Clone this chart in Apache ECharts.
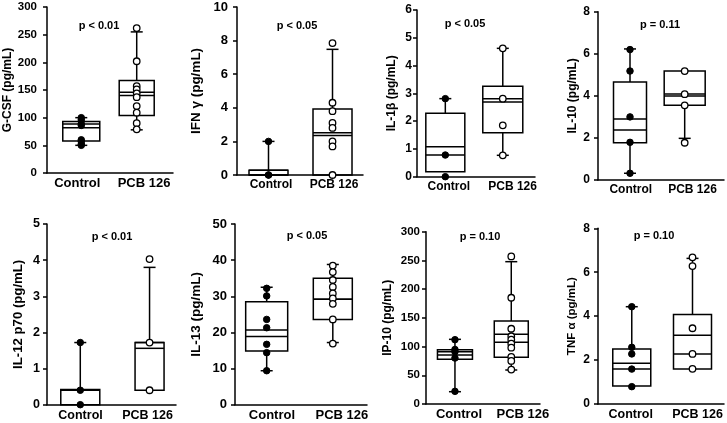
<!DOCTYPE html>
<html><head><meta charset="utf-8">
<script src="https://cdn.jsdelivr.net/npm/echarts@6/dist/echarts.min.js"></script>
<style>html,body{margin:0;padding:0;background:#fff}#c{width:727px;height:423px}</style>
</head><body><div id="c"></div>
<script>
// ---------- DATA ----------
const categories = ['Control', 'PCB 126'];
const yTitles = ['G-CSF (pg/mL)', 'IFN γ (pg/mL)', 'IL-1β (pg/mL)', 'IL-10 (pg/mL)',
                 'IL-12 p70 (pg/mL)', 'IL-13 (pg/mL)', 'IP-10 (pg/mL)', 'TNF α (pg/mL)'];
const pValues = ['p < 0.01', 'p < 0.05', 'p < 0.05', 'p = 0.11', 'p < 0.01', 'p < 0.05', 'p = 0.10', 'p = 0.10'];
const yMax = [300, 10, 6, 8, 5, 50, 300, 8];
const yStep = [50, 2, 1, 2, 1, 10, 50, 2];
// [whisker low, Q1, median, Q3, whisker high, mean]
const controlBoxes = [
  [50, 58, 82, 93, 100, 88.5],
  [0, 0, 0, 0.28, 2, 0.28],
  [0.18, 0.18, 0.78, 2.28, 2.81, 1.08],
  [0.32, 1.77, 2.38, 4.66, 6.23, 2.9],
  [0, 0, 0.4, 0.42, 1.72, 0.4],
  [9.4, 14.86, 18.9, 28.5, 32.5, 20.67],
  [21.4, 77.8, 85.3, 94.5, 112.6, 91],
  [0.82, 0.82, 1.59, 2.5, 4.43, 1.85]
];
const pcbBoxes = [
  [78, 104, 140, 167, 255, 146],
  [0, 0, 2.35, 3.93, 7.48, 2.52],
  [0.77, 1.58, 2.69, 3.26, 4.62, 2.81],
  [1.98, 3.55, 4.09, 5.18, 5.18, 3.99],
  [0.4, 0.4, 1.56, 1.72, 3.8, 1.72],
  [17.2, 23.6, 29.2, 35.0, 38.8, 29.2],
  [59.2, 81.3, 107.4, 144.5, 247.8, 121.3],
  [1.59, 1.59, 2.28, 4.08, 6.63, 3.13]
];
const controlPoints = [
  [100, 96, 89, 86, 60, 57, 52, 50],
  [2, 0, 0],
  [2.81, 0.78, 0],
  [6.2, 5.18, 3.0, 1.79, 0.32],
  [1.72, 0.4, 0],
  [32.2, 30.1, 23.6, 21.3, 16.7, 14.4, 9.4],
  [112, 95, 91, 80, 22],
  [4.43, 2.58, 2.28, 1.59, 0.79]
];
const pcbPoints = [
  [262, 202, 157, 151, 144, 137, 121, 109, 90, 79],
  [7.85, 4.3, 3.8, 3.1, 2.8, 2.0, 1.7, 0],
  [4.62, 2.81, 1.85, 0.77],
  [5.18, 4.08, 3.55, 1.77],
  [4.03, 1.72, 0.4],
  [38.5, 36.7, 34.5, 32.6, 30.8, 29.4, 27.9, 23.6, 16.9],
  [257, 185, 131, 118, 112, 105, 98, 82, 75, 60],
  [6.68, 6.28, 3.45, 2.28, 1.6]
];

// ---------- LAYOUT ----------
const grids = [
  [47, 7, 126, 166], [237, 7, 126, 168], [417, 10, 118, 166.7], [598, 11.7, 126, 168.3],
  [47, 224, 129, 180.7], [235, 224, 132, 180.7], [426, 231.7, 114, 172.3], [598, 228.3, 126, 175.7]
];
const boxX = [[27.2, 71.2], [25, 75.8], [24, 72.7], [25.4, 68.8], [25.8, 79.5], [24, 74.1], [25.4, 74.8], [26.8, 75]];
const labelX = [[24, 77], [27, 77], [27, 81], [26, 75], [26, 78], [28, 81], [29, 85], [26, 79]];
const boxW = [[37, 35], [39, 39], [39, 40], [33, 41], [39, 29], [42, 39], [35, 34], [38, 38]];
const nameGap = [31, 34, 19, 19, 22, 32, 32, 20];
const titleSize = [12, 13.5, 12, 12, 13.2, 13.5, 12, 11.5];
const tickSize = [11.5, 13, 12, 12, 12.5, 13, 11.5, 12];
const tickMargin = [10, 9, 5, 8, 7, 8, 6, 8];
const catSize = [13, 12, 12, 12, 12.5, 13, 13, 12.5];
const pPos = [[99, 26], [297, 26], [465, 24], [660, 25], [112, 237], [307, 236], [480, 237], [654, 236]];
const FONT = '"Liberation Sans", Arial, sans-serif';
const LW = 1.5, CAP = 12;

function boxRenderer(w) {
  return function (params, api) {
    const x = api.value(0);
    const lo = api.value(1), q1 = api.value(2), med = api.value(3), q3 = api.value(4), hi = api.value(5), mean = api.value(6);
    const cx = api.coord([x, q1])[0];
    const y = v => api.coord([x, v])[1];
    const ls = { stroke: '#000', lineWidth: LW };
    const ch = [];
    const hl = (yy, half) => ({ type: 'line', shape: { x1: cx - half, y1: yy, x2: cx + half, y2: yy }, style: ls });
    if (hi > q3) {
      ch.push({ type: 'line', shape: { x1: cx, y1: y(q3), x2: cx, y2: y(hi) }, style: ls });
      ch.push(hl(y(hi), CAP / 2));
    }
    if (lo < q1) {
      ch.push({ type: 'line', shape: { x1: cx, y1: y(q1), x2: cx, y2: y(lo) }, style: ls });
      ch.push(hl(y(lo), CAP / 2));
    }
    ch.push({ type: 'rect', shape: { x: cx - w / 2, y: y(q3), width: w, height: y(q1) - y(q3) },
              style: { stroke: '#000', fill: 'none', lineWidth: LW } });
    ch.push(hl(y(med), w / 2));
    ch.push(hl(y(mean), w / 2));
    return { type: 'group', children: ch };
  };
}

const option = { backgroundColor: '#fff', animation: false, grid: [], xAxis: [], yAxis: [], series: [], graphic: [] };

for (let i = 0; i < 8; i++) {
  const g = grids[i];
  option.grid.push({ left: g[0], top: g[1], width: g[2], height: g[3], containLabel: false });
  option.xAxis.push({
    type: 'value', gridIndex: i, min: 0, max: 100, interval: 1,
    axisLine: { show: true, onZero: false, lineStyle: { color: '#000', width: LW } },
    axisTick: { show: false }, splitLine: { show: false },
    axisLabel: {
      show: true, margin: 4, color: '#000', fontFamily: FONT, fontWeight: 'bold', fontSize: catSize[i],
      hideOverlap: false, showMinLabel: true, showMaxLabel: true,
      formatter: (v) => {
        const r = Math.round(v);
        if (r === labelX[i][0]) return categories[0];
        if (r === labelX[i][1]) return categories[1];
        return '';
      }
    }
  });
  option.yAxis.push({
    type: 'value', gridIndex: i, min: 0, max: yMax[i], interval: yStep[i],
    name: yTitles[i], nameLocation: 'middle', nameRotate: 90, nameGap: nameGap[i],
    nameTextStyle: { color: '#000', fontFamily: FONT, fontWeight: 'bold', fontSize: titleSize[i] },
    axisLine: { show: true, lineStyle: { color: '#000', width: LW } },
    axisTick: { show: true, length: 4, lineStyle: { color: '#000', width: LW } },
    splitLine: { show: false },
    axisLabel: { color: '#000', fontFamily: FONT, fontWeight: 'bold', fontSize: tickSize[i], margin: tickMargin[i] }
  });
  const boxes = [controlBoxes[i], pcbBoxes[i]];
  for (let k = 0; k < 2; k++) {
    option.series.push({
      type: 'custom', xAxisIndex: i, yAxisIndex: i, silent: true, z: 2, clip: false,
      renderItem: boxRenderer(boxW[i][k]),
      encode: { x: 0, y: [1, 2, 3, 4, 5, 6] },
      data: [[boxX[i][k]].concat(boxes[k])]
    });
  }
  option.series.push({
    type: 'scatter', xAxisIndex: i, yAxisIndex: i, silent: true, z: 3, symbol: 'circle', symbolSize: 6.5,
    itemStyle: { color: '#000', borderColor: '#000', borderWidth: 1, opacity: 1 },
    data: controlPoints[i].map(v => [boxX[i][0], v])
  });
  option.series.push({
    type: 'scatter', xAxisIndex: i, yAxisIndex: i, silent: true, z: 3, symbol: 'circle', symbolSize: 6.5,
    itemStyle: { color: '#fff', borderColor: '#000', borderWidth: 1.3, opacity: 1 },
    data: pcbPoints[i].map(v => [boxX[i][1], v])
  });
  option.graphic.push({
    type: 'text', x: pPos[i][0], y: pPos[i][1], silent: true,
    style: { text: pValues[i], font: 'bold 11px ' + FONT, fill: '#000', textAlign: 'center', textVerticalAlign: 'middle' }
  });
}

const chart = echarts.init(document.getElementById('c'), null, { renderer: 'canvas' });
chart.setOption(option);
</script>
</body></html>
